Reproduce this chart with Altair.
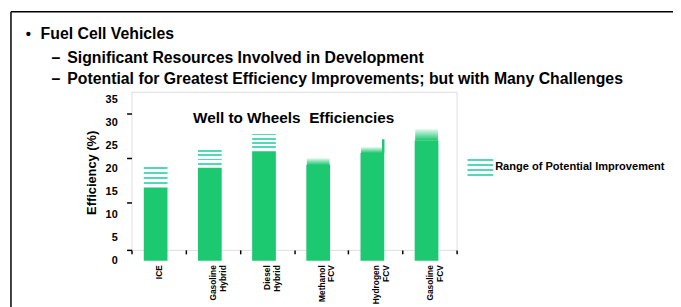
import altair as alt
import pandas as pd

# ---------------- data ----------------
categories = ["ICE", "Gasoline Hybrid", "Diesel Hybrid", "Methanol FCV", "Hydrogen FCV", "Gasoline FCV"]
base_eff = [15.9, 20.2, 23.8, 20.8, 23.4, 26.2]

improve_cats = ["ICE", "Gasoline Hybrid", "Diesel Hybrid"]
improve_low = [16.5, 20.8, 24.4]
improve_high = [21.0, 24.5, 28.1]

fade_cats = ["Methanol FCV", "Hydrogen FCV", "Gasoline FCV"]
fade_low = [20.8, 23.4, 26.2]
fade_high = [22.3, 24.7, 28.6]

thin_cats = ["Hydrogen FCV"]
thin_low = [23.4]
thin_high = [26.4]

y_label_values = [0, 5, 10, 15, 20, 25, 30, 35]
y_tick_marks = [2.4, 7.3, 12.7, 17.4, 22.3, 26.8, 32.0]

bullets = ["Fuel Cell Vehicles"]
sub_bullets = ["Significant Resources Involved in Development",
               "Potential for Greatest Efficiency Improvements; but with Many Challenges"]
chart_title = "Well to Wheels\u00a0 Efficiencies"
y_title = "Efficiency (%)"
legend_label = "Range of Potential Improvement"

# ---------------- styling ----------------
GREEN = "#1cc870"
TEAL = "#52d8b6"
FONT = "Liberation Sans"
W, H = 329, 160

def stripes(n, color):
    stops = []
    for i in range(n):
        a = i / n
        b = (i + 0.5) / n
        c = (i + 0.9) / n
        stops += [alt.GradientStop(offset=a, color="white"),
                  alt.GradientStop(offset=b, color="white"),
                  alt.GradientStop(offset=b, color=color),
                  alt.GradientStop(offset=c, color=color),
                  alt.GradientStop(offset=c, color="white")]
    stops.append(alt.GradientStop(offset=1, color="white"))
    return alt.LinearGradient(gradient="linear", stops=stops, x1=0, x2=0, y1=0, y2=1)

fade_grad = alt.LinearGradient(
    gradient="linear",
    stops=[alt.GradientStop(offset=0, color="#e4faee"),
           alt.GradientStop(offset=1, color=GREEN)],
    x1=0, x2=0, y1=0, y2=1)

x_scale = alt.Scale(domain=categories, paddingInner=0, paddingOuter=0)
x_enc = alt.X("cat:N", sort=categories, scale=x_scale,
              axis=alt.Axis(title=None, domain=False, ticks=True, tickSize=4,
                            tickColor="black", tickWidth=1.5, tickBand="extent",
                            labelAngle=-90, labelAlign="right", labelBaseline="middle",
                            labelPadding=11, labelFont=FONT, labelFontSize=8.5,
                            labelFontWeight="bold", labelColor="black",
                            labelLineHeight=10,
                            labelExpr="split(datum.label, ' ')"))
x_plain = alt.X("cat:N", sort=categories, scale=x_scale)
y_scale = alt.Scale(domain=[2.36, 36.72], nice=False, zero=False)
y_axis = alt.Axis(title=None, values=y_tick_marks, labels=False, domain=False,
                  ticks=True, tickSize=5, tickColor="black", tickWidth=1.5, grid=False)

df_base = pd.DataFrame({"cat": categories, "v": base_eff, "z": [0] * len(categories)})
df_imp = pd.DataFrame({"cat": improve_cats, "lo": improve_low, "hi": improve_high})
df_fade = pd.DataFrame({"cat": fade_cats, "lo": fade_low, "hi": fade_high})
df_thin = pd.DataFrame({"cat": thin_cats, "lo": thin_low, "hi": thin_high})
df_ylab = pd.DataFrame({"v": y_label_values, "t": [str(v) for v in y_label_values]})

bars = alt.Chart(df_base).mark_bar(size=24, color=GREEN, xOffset=-3).encode(
    x=x_enc, y=alt.Y("v:Q", scale=y_scale, axis=y_axis), y2="z:Q")

imp = alt.Chart(df_imp).mark_bar(size=24, color=stripes(4, TEAL), xOffset=-3).encode(
    x=x_plain, y="hi:Q", y2="lo:Q")

fade = alt.Chart(df_fade).mark_bar(size=23, color=fade_grad, xOffset=-3).encode(
    x=x_plain, y="hi:Q", y2="lo:Q")

thin = alt.Chart(df_thin).mark_bar(size=2.5, color=GREEN, xOffset=8).encode(
    x=x_plain, y="hi:Q", y2="lo:Q")

ylabels = alt.Chart(df_ylab).mark_text(align="right", baseline="middle", font=FONT,
                                       fontSize=11, fontWeight="bold", color="black").encode(
    x=alt.value(-14), y="v:Q", text="t:N")

anno = pd.DataFrame({"k": [0]})

def txt(s, x, y, size, align="left", angle=0, weight="bold"):
    return alt.Chart(anno).mark_text(text=s, align=align, baseline="middle", font=FONT,
                                     fontSize=size, fontWeight=weight, color="black",
                                     angle=angle).encode(x=alt.value(x), y=alt.value(y))

texts = [
    txt("•", -107, -58, 15),
    txt(bullets[0], -92, -58, 16),
    txt("–", -81, -34, 16),
    txt(sub_bullets[0], -65, -34, 16),
    txt("–", -81, -13, 16),
    txt(sub_bullets[1], -65, -13, 16),
    txt(chart_title, 164, 27, 15.5, align="center"),
    txt(y_title, -40, 82, 13, align="center", angle=270),
    txt(legend_label, 368, 76, 11.2),
]

frame_top = alt.Chart(anno).mark_rule(color="black", strokeWidth=1.5).encode(
    x=alt.value(-122), x2=alt.value(560), y=alt.value(-81))
frame_left = alt.Chart(anno).mark_rule(color="black", strokeWidth=1.5).encode(
    x=alt.value(-122), y=alt.value(-81), y2=alt.value(230))

swatch = alt.Chart(anno).mark_rect(color=stripes(4, TEAL)).encode(
    x=alt.value(340), x2=alt.value(366), y=alt.value(66), y2=alt.value(86))

chart = alt.layer(bars, imp, fade, thin, ylabels, swatch, frame_top, frame_left, *texts).properties(
    width=W, height=H,
    autosize=alt.AutoSizeParams(type="none"),
    padding={"left": 125, "top": 83, "right": 219, "bottom": 56},
).configure_view(stroke="black", strokeWidth=1.5).configure(background="white")

chart.save("out.html", embed_options={"renderer": "svg", "actions": False})
